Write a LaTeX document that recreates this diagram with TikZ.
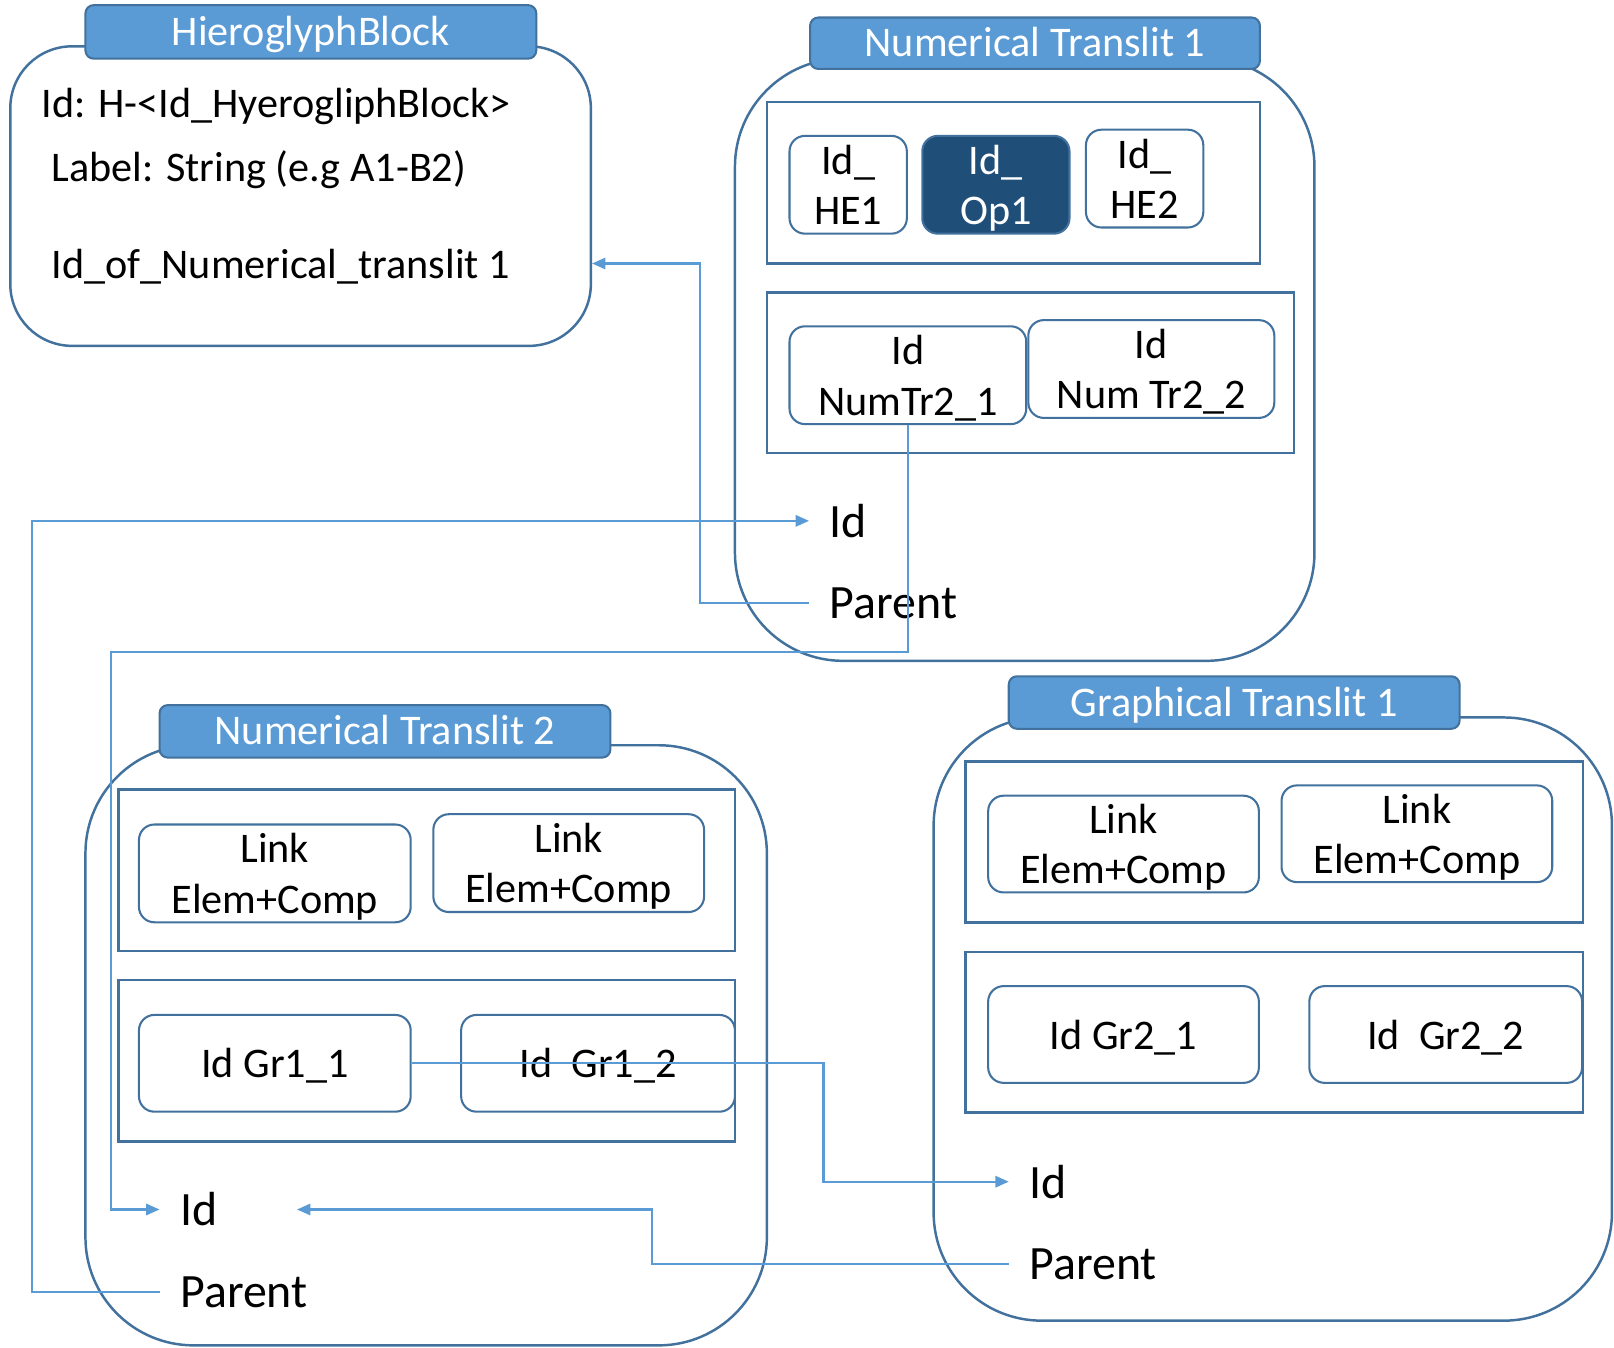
\documentclass[tikz,border=0pt]{standalone}
\usepackage{fontspec}
\setmainfont{Carlito}
\usetikzlibrary{arrows.meta,calc}
\definecolor{edgeblue}{HTML}{41719C}
\definecolor{headblue}{HTML}{5B9BD5}
\definecolor{linkblue}{HTML}{5B9BD5}
\definecolor{opfill}{HTML}{1F4E79}

\begin{document}
\begin{tikzpicture}[x=1pt,y=-1pt,
  bodyfont/.style={font=\fontsize{41}{49}\selectfont},
  outerbox/.style={draw=edgeblue, line width=2.4pt, rounded corners=#1, inner sep=0pt},
  header/.style={draw=edgeblue, line width=2pt, fill=headblue, rounded corners=8pt,
    text=white, bodyfont, text height=26.5pt, text depth=0pt, inner sep=0pt},
  group/.style={draw=edgeblue, line width=2.4pt, inner sep=0pt},
  item/.style={draw=edgeblue, line width=2pt, fill=white, rounded corners=15pt,
    bodyfont, align=center, text depth=0pt, inner sep=0pt},
  field/.style={font=\fontsize{46.5}{54}\selectfont, anchor=west, inner xsep=20pt, inner ysep=0pt},
  attr/.style={bodyfont, anchor=base west, inner sep=0pt},
  conn/.style={draw=linkblue, line width=2pt},
  arr/.style={conn, -{Triangle[length=13pt,width=11pt]}}
]
\useasboundingbox (0,0) rectangle (1568,1309);

% ---------- HieroglyphBlock ----------
\node[outerbox=60pt, minimum width=564pt, minimum height=291pt] (hb) at (292,190.5) {};
\node[header, minimum width=438pt, minimum height=52pt] (hbh) at (302,31) {HieroglyphBlock};
\node[attr] (hbid) at (40,114) {Id: H-<Id\_HyerogliphBlock>};
\node[attr] (hblabel) at (50,176) {Label: String (e.g A1-B2)};
\node[attr] (idof) at (50,271) {Id\_of\_Numerical\_translit 1};

% ---------- Numerical Translit 1 ----------
\node[outerbox=105pt, minimum width=563pt, minimum height=585pt] (nt1) at (995.5,349.5) {};
\node[header, minimum width=437pt, minimum height=50pt] (nt1h) at (1005.5,42) {Numerical Translit 1};
\node[group, minimum width=479pt, minimum height=157pt] (nt1a) at (984.5,177.5) {};
\node[item, minimum width=114pt, minimum height=95pt] (he1) at (824,179.5) {Id\_\\HE1};
\node[item, fill=opfill, text=white, minimum width=143pt, minimum height=95pt] (op1) at (967.5,179.5) {Id\_\\Op1};
\node[item, minimum width=114pt, minimum height=95pt] (he2) at (1112,173.5) {Id\_\\HE2};
\node[group, minimum width=512pt, minimum height=156pt] (nt1b) at (1001,362) {};
\node[item, minimum width=230pt, minimum height=95pt] (n21) at (882,364.5) {Id\\NumTr2\_1};
\node[item, minimum width=239pt, minimum height=95pt] (n22) at (1118.5,358.5) {Id\\Num Tr2\_2};
\node[field] (id1) at (786,506) {Id};
\node[field] (p1) at (786,586) {Parent};

% ---------- Numerical Translit 2 ----------
\node[outerbox=105pt, minimum width=662pt, minimum height=583pt] (nt2) at (414,1015.5) {};
\node[header, minimum width=438pt, minimum height=51pt] (nt2h) at (374,710.5) {Numerical Translit 2};
\node[group, minimum width=599pt, minimum height=157pt] (nt2a) at (414.5,845.5) {};
\node[item, minimum width=264pt, minimum height=95pt] (la1) at (267,848.5) {Link\\Elem+Comp};
\node[item, minimum width=263pt, minimum height=95pt] (la2) at (552.5,838.5) {Link\\Elem+Comp};
\node[group, minimum width=599pt, minimum height=157pt] (nt2b) at (414.5,1030.5) {};
\node[item, minimum width=264pt, minimum height=94pt] (g11) at (267,1033) {Id Gr1\_1};
\node[item, minimum width=266pt, minimum height=94pt] (g12) at (581,1033) {Id\ \ Gr1\_2};
\node[field] (id2) at (155,1175) {Id};
\node[field] (p2) at (155,1255) {Parent};

% ---------- Graphical Translit 1 ----------
\node[outerbox=105pt, minimum width=659pt, minimum height=586pt] (gt1) at (1236.5,990) {};
\node[header, minimum width=438pt, minimum height=51pt] (gt1h) at (1199,682.5) {Graphical Translit 1};
\node[group, minimum width=600pt, minimum height=156pt] (gt1a) at (1238,818) {};
\node[item, minimum width=263pt, minimum height=94pt] (lb1) at (1091.5,820) {Link\\Elem+Comp};
\node[item, minimum width=263pt, minimum height=94pt] (lb2) at (1376.5,810) {Link\\Elem+Comp};
\node[group, minimum width=600pt, minimum height=156pt] (gt1b) at (1238,1003) {};
\node[item, minimum width=263pt, minimum height=94pt] (g21) at (1091.5,1005) {Id Gr2\_1};
\node[item, minimum width=265pt, minimum height=94pt] (g22) at (1404.5,1005) {Id\ \ Gr2\_2};
\node[field] (id3) at (980,1148) {Id};
\node[field] (p3) at (980,1228) {Parent};

% ---------- references between blocks ----------
\coordinate (k1) at (680,256);
\coordinate (k2) at (108,633);
\coordinate (k3) at (31,0);
\coordinate (k4) at (800,0);
\coordinate (k5) at (633,0);

\draw[arr] (p1.west) -| (k1) -- (k1 -| hb.east);
\draw[arr] (n21.south) |- (k2) |- (id2.west);
\draw[arr] (p2.west) -- (k3 |- p2.west) -- (k3 |- id1.west) -- (id1.west);
\draw[arr] (g11.east) -- (k4 |- g11.east) |- (id3.west);
\draw[arr] (p3.west) -- (k5 |- p3.west) |- ($(id2.east)+(57,0)$);
\end{tikzpicture}
\end{document}
